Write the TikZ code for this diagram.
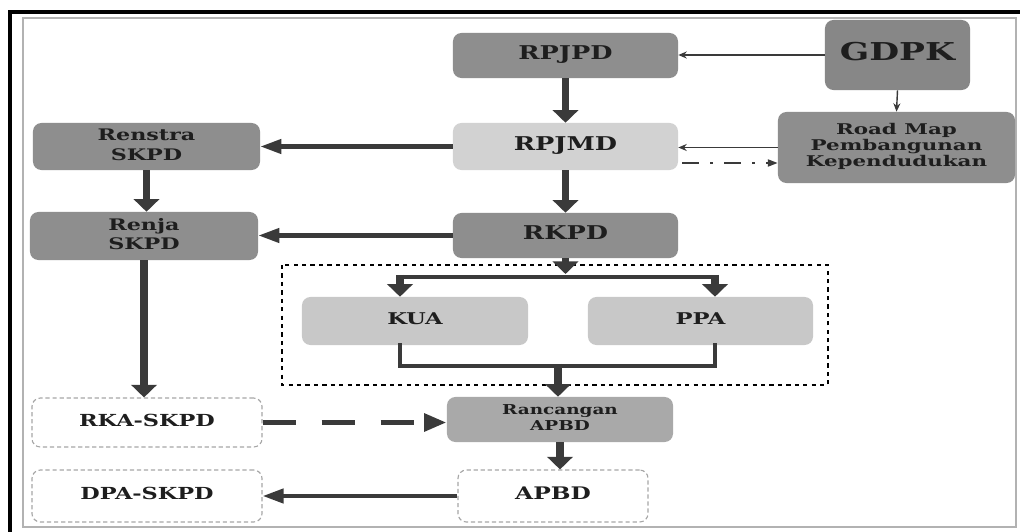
\documentclass[tikz,border=0pt]{standalone}
\usepackage{graphicx}
\usepackage{fontspec}
\setmainfont{DejaVu Serif}
\usetikzlibrary{arrows.meta,calc}
\newcommand\txs[4][1.45]{\scalebox{#1}[1]{\fontsize{#2}{#3}\selectfont\bfseries\begin{tabular}{@{}c@{}}#4\end{tabular}}}
\newcommand\tx[3][1.45]{\txs[#1]{#2}{#2}{#3}}
\definecolor{dg}{HTML}{8E8E8E}
\definecolor{lg}{HTML}{D2D2D2}
\definecolor{kg}{HTML}{C8C8C8}
\definecolor{mg}{HTML}{A9A9A9}
\definecolor{ar}{HTML}{3A3A3A}
\definecolor{tc}{HTML}{1E1E1E}
\tikzset{
  box/.style={rounded corners=6pt, inner sep=0pt, text=tc, align=center},
  wbox/.style={box, fill=white, draw=gray!70, densely dashed, line width=0.8pt},
  bigarr/.style={draw=ar, line width=5pt, -{Triangle[width=18pt,length=9pt]}},
  harr/.style={draw=ar, line width=3pt, -{Triangle[width=10pt,length=15pt]}},
  thinarr/.style={draw=ar, line width=1pt, -{Stealth[width=5pt,length=6pt]}},
  pline/.style={draw=ar, line width=3pt},
}
\begin{document}
\begin{tikzpicture}[x=0.025cm,y=-0.025cm]
\useasboundingbox (0,0) rectangle (1020,532);
\fill[white] (0,0) rectangle (1020,532);
% frames
\draw[line width=1pt, draw=gray!60] (23,18) rectangle (1016,527);
\draw[line width=3.5pt, black] (10,532) -- (10,12) -- (1020,12);
% nodes
\node[box, fill=dg, minimum width=5.625cm, minimum height=1.125cm] (rpjpd) at (565.5,55.5) {\tx[1.35]{13.5pt}{RPJPD}};
\node[box, fill=lg, minimum width=5.625cm, minimum height=1.175cm] (rpjmd) at (565.5,146.5) {\tx[1.35]{13.5pt}{RPJMD}};
\node[box, fill=dg, minimum width=5.625cm, minimum height=1.125cm] (rkpd) at (565.5,235.5) {\tx[1.35]{13.5pt}{RKPD}};
\node[box, fill=dg!95!black, minimum width=3.625cm, minimum height=1.75cm] (gdpk) at (897.5,55) {\tx[1.4]{17.5pt}{GDPK}};
\node[box, fill=dg, minimum width=5.925cm, minimum height=1.775cm] (road) at (896.5,147.5) {\raisebox{-1.5pt}{\txs[1.45]{10.5pt}{11pt}{Road Map\\Pembangunan\\Kependudukan}}};
\node[box, fill=dg, minimum width=5.675cm, minimum height=1.175cm] (renstra) at (146.5,146.5) {\raisebox{-3pt}{\txs[1.4]{11.3pt}{14pt}{Renstra\\SKPD}}};
\node[box, fill=dg, minimum width=5.7cm, minimum height=1.2cm] (renja) at (144,236) {\raisebox{-3pt}{\txs[1.4]{11.3pt}{14pt}{Renja\\SKPD}}};
\node[box, fill=kg, minimum width=5.65cm, minimum height=1.2cm] (kua) at (415,321) {\tx[1.4]{11.5pt}{KUA}};
\node[box, fill=kg, minimum width=5.625cm, minimum height=1.2cm] (ppa) at (700.5,321) {\tx[1.4]{11.5pt}{PPA}};
\node[box, fill=mg, minimum width=5.65cm, minimum height=1.125cm] (ranc) at (560,419.5) {\raisebox{-1.5pt}{\txs[1.35]{9.7pt}{11.5pt}{Rancangan\\APBD}}};
\node[wbox, minimum width=5.75cm, minimum height=1.225cm] (rka) at (147,422.5) {\tx[1.35]{11.8pt}{RKA-SKPD}};
\node[wbox, minimum width=5.75cm, minimum height=1.3cm] (dpa) at (147,496) {\tx[1.35]{11.8pt}{DPA-SKPD}};
\node[wbox, minimum width=4.75cm, minimum height=1.3cm] (apbd) at (553,496) {\tx[1.35]{12.3pt}{APBD}};
% dotted group box
\draw[line width=2pt, dash pattern=on 3pt off 3pt] (282,265) rectangle (828,385);
% junction coordinates
\coordinate (jkt) at (400,277);
\coordinate (jpt) at (715,277);
\coordinate (jkb) at (400,366);
\coordinate (jpb) at (715,366);
\coordinate (jmb) at (558,366);
\coordinate (ds) at (682,163);
\coordinate (jta) at (565.5,274);
% connectors
\draw[thinarr] (gdpk.west) -- (gdpk.west -| rpjpd.east);
\draw[thinarr] (gdpk.south) -- (road.north);
\draw[bigarr] (rpjpd.south) -- (rpjmd.north);
\draw[bigarr] (rpjmd.south) -- (rkpd.north);
\draw[thinarr] (road.west) -- (road.west -| rpjmd.east);
\draw[draw=ar, line width=1.3pt, dash pattern=on 12pt off 8pt on 2pt off 8pt, -{Triangle[width=5pt,length=7pt]}] (ds) -- (ds -| road.west);
\draw[harr] (rpjmd.west) -- (rpjmd.west -| renstra.east);
\draw[harr] (rkpd.west) -- (rkpd.west -| renja.east);
\draw[bigarr] (renstra.south) -- (renstra.south |- renja.north);
\draw[bigarr] (renja.south) -- (renja.south |- rka.north);
\draw[bigarr] (rkpd.south) -- (jta);
\draw[pline] (jkt) -- (jpt);
\draw[bigarr] ([yshift=1.5pt]jkt) -- (jkt |- kua.north);
\draw[bigarr] ([yshift=1.5pt]jpt) -- (jpt |- ppa.north);
\draw[pline, line cap=rect] (jkt |- kua.south) -- (jkb) -- (jpb) -- (jpt |- ppa.south);
\draw[bigarr] ([yshift=1.5pt]jmb) -- (jmb |- ranc.north);
\draw[draw=ar, line width=4pt, dash pattern=on 24pt off 18pt, -{Triangle[width=12pt,length=16pt]}] (rka.east) -- (rka.east -| ranc.west);
\draw[bigarr] (ranc.south) -- (ranc.south |- apbd.north);
\draw[harr] (apbd.west) -- (apbd.west -| dpa.east);
\end{tikzpicture}
\end{document}
